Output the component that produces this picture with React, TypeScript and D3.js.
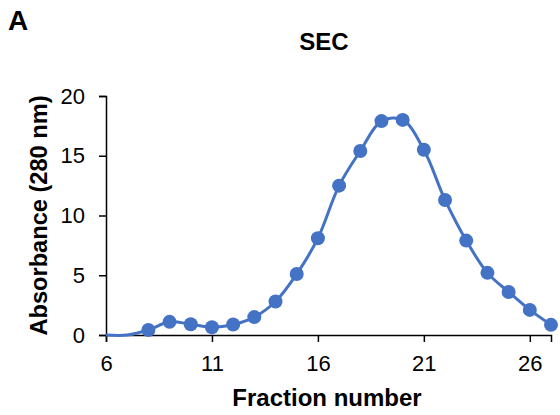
import { useEffect, useRef } from "react"
import * as d3 from "d3"

// fractions with measured absorbance (markers)
const fractions = [8, 9, 10, 11, 12, 13, 14, 15, 16, 17, 18, 19, 20, 21, 22, 23, 24, 25, 26, 27]
const absorbance = [0.42, 1.1, 0.9, 0.65, 0.88, 1.5, 2.8, 5.1, 8.1, 12.5, 15.4, 17.9, 18.0, 15.5, 11.3, 7.9, 5.2, 3.6, 2.1, 0.85]

// leading baseline part of the line (no markers)
const leadFractions = [6, 7]
const leadAbsorbance = [0, 0]

const xMajorTicks = [6, 11, 16, 21, 26]
const yMajorTicks = [0, 5, 10, 15, 20]

const blue = "#4472C4"
const font = "'Liberation Sans', Arial, sans-serif"

export default function App() {
  const svgRef = useRef<SVGSVGElement>(null)

  useEffect(() => {
    if (!svgRef.current) return
    const svg = d3.select(svgRef.current)
    svg.selectAll("*").remove()

    const x = d3.scaleLinear().domain([6, 27]).range([106, 551])
    const y = d3.scaleLinear().domain([0, 20]).range([335, 96])

    // panel letter and title
    svg.append("text").attr("x", 8).attr("y", 30).attr("font-family", font).attr("font-weight", "bold")
      .attr("font-size", 28).text("A")
    svg.append("text").attr("x", 324).attr("y", 50).attr("text-anchor", "middle").attr("font-family", font)
      .attr("font-weight", "bold").attr("font-size", 24).text("SEC")

    // x axis
    const xAxis = svg.append("g").attr("transform", `translate(0,${y(0)})`)
    xAxis.call(d3.axisBottom(x).tickValues(d3.range(6, 28)).tickSize(4).tickFormat(() => ""))
    xAxis.call(d3.axisBottom(x).tickValues(xMajorTicks).tickSize(7).tickPadding(13).tickFormat(d3.format("d")))
    xAxis.selectAll("path").attr("stroke", "#000").attr("stroke-width", 1.5)
    xAxis.selectAll("line").attr("stroke", "#000").attr("stroke-width", 1.5)
    xAxis.selectAll("text").attr("font-family", font).attr("font-size", 22).attr("fill", "#000")

    // y axis
    const yAxis = svg.append("g").attr("transform", `translate(${x(6)},0)`)
    yAxis.call(d3.axisLeft(y).tickValues(d3.range(0, 21)).tickSize(4).tickFormat(() => ""))
    yAxis.call(d3.axisLeft(y).tickValues(yMajorTicks).tickSize(7).tickPadding(14).tickFormat(d3.format("d")))
    yAxis.selectAll("path").attr("stroke", "#000").attr("stroke-width", 1.5)
    yAxis.selectAll("line").attr("stroke", "#000").attr("stroke-width", 1.5)
    yAxis.selectAll("text").attr("font-family", font).attr("font-size", 22).attr("fill", "#000")

    // axis titles
    svg.append("text").attr("x", 327).attr("y", 406).attr("text-anchor", "middle").attr("font-family", font)
      .attr("font-weight", "bold").attr("font-size", 24).text("Fraction number")
    svg.append("text").attr("transform", `translate(47,${(y(0) + y(20)) / 2}) rotate(-90)`)
      .attr("text-anchor", "middle").attr("font-family", font).attr("font-weight", "bold").attr("font-size", 23)
      .attr("textLength", 240).attr("lengthAdjust", "spacingAndGlyphs")
      .text("Absorbance (280 nm)")

    // smoothed line
    const lineData: [number, number][] = [
      ...leadFractions.map((f, i) => [f, leadAbsorbance[i]] as [number, number]),
      ...fractions.map((f, i) => [f, absorbance[i]] as [number, number]),
    ]
    const line = d3.line<[number, number]>()
      .x((d) => x(d[0]))
      .y((d) => y(d[1]))
      .curve(d3.curveCatmullRom.alpha(0.5))
    svg.append("path").datum(lineData).attr("fill", "none").attr("stroke", blue).attr("stroke-width", 3)
      .attr("d", line)

    // markers
    svg.append("g").selectAll("circle").data(fractions).join("circle")
      .attr("cx", (d) => x(d))
      .attr("cy", (_, i) => y(absorbance[i]))
      .attr("r", 7)
      .attr("fill", blue)
  }, [])

  return (
    <svg ref={svgRef} width={560} height={415}
      style={{ position: "absolute", left: 0, top: 0, background: "#fff" }} />
  )
}
